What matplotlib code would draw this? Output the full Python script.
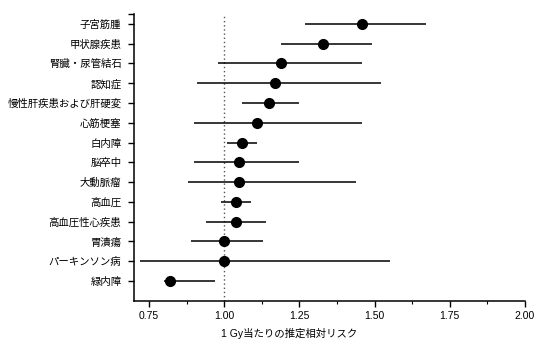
import matplotlib
matplotlib.use("Agg")
import matplotlib.pyplot as plt
from matplotlib.ticker import MultipleLocator

plt.rcParams['font.family'] = ['Liberation Sans', 'Noto Sans CJK JP', 'DejaVu Sans']

# data (top to bottom)
diseases = ["子宮筋腫", "甲状腺疾患", "腎臓・尿管結石", "認知症", "慢性肝疾患および肝硬変",
            "心筋梗塞", "白内障", "脳卒中", "大動脈瘤", "高血圧", "高血圧性心疾患",
            "胃潰瘍", "パーキンソン病", "緑内障"]
rr = [1.46, 1.33, 1.19, 1.17, 1.15, 1.11, 1.06, 1.05, 1.05, 1.04, 1.04, 1.00, 1.00, 0.82]
lo = [1.27, 1.19, 0.98, 0.91, 1.06, 0.90, 1.01, 0.90, 0.88, 0.99, 0.94, 0.89, 0.72, 0.80]
hi = [1.67, 1.49, 1.46, 1.52, 1.25, 1.46, 1.11, 1.25, 1.44, 1.09, 1.14, 1.13, 1.55, 0.97]
xticks = [0.75, 1.0, 1.25, 1.5, 1.75, 2.0]

ypos = list(range(len(diseases)))

fig = plt.figure(figsize=(5.4, 3.56), dpi=100)
ax = fig.add_axes([0.248, 0.155, 0.724, 0.806])

ax.axvline(1.0, color="#555555", linestyle=(0, (1, 2)), linewidth=1, zorder=1)
ax.hlines(ypos, lo, hi, color="black", linewidth=1.1, zorder=2)
ax.plot(rr, ypos, "o", color="black", markersize=7, zorder=3)

ax.set_xlim(0.70, 2.00)
ax.set_ylim(14.0, -0.5)
ax.xaxis.set_minor_locator(MultipleLocator(0.125))
ax.set_xticks(xticks)
ax.set_xticklabels(["%.2f" % t for t in xticks], fontsize=7.5)

ax.set_yticks(ypos + [-0.5])
ax.set_yticklabels(diseases + [""], fontsize=7.5)

ax.spines["top"].set_visible(False)
ax.spines["right"].set_visible(False)
for s in ["left", "bottom"]:
    ax.spines[s].set_linewidth(1.1)
ax.tick_params(axis="both", which="major", length=4, width=1, direction="out")
ax.tick_params(axis="x", which="minor", length=2.5, width=0.8)
ax.tick_params(axis="y", pad=5)

ax.set_xlabel("1 Gy当たりの推定相対リスク", fontsize=7.5, va="center")
ax.xaxis.set_label_coords(0.396, -0.113)

fig.savefig("out.png", dpi=100)
